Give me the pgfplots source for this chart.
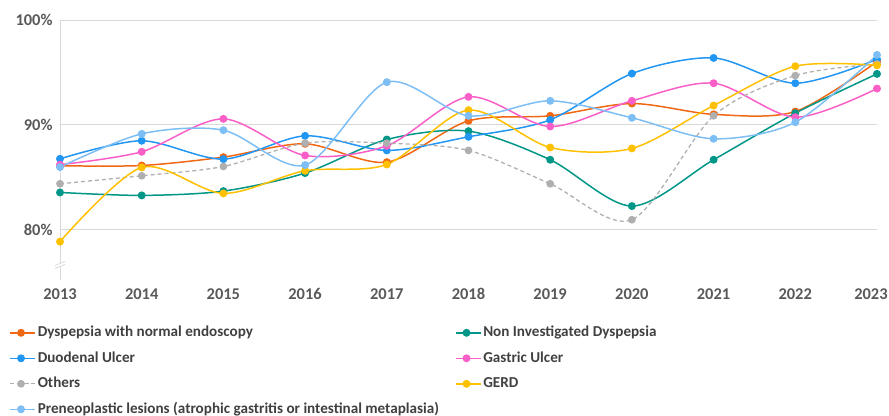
\documentclass[border=0pt]{standalone}
\usepackage{fontspec}
\setmainfont{Carlito}
\usepackage{pgfplots}
\pgfplotsset{compat=1.18}
\definecolor{cDNE}{RGB}{240,103,20}
\definecolor{cNID}{RGB}{0,150,136}
\definecolor{cDU}{RGB}{33,150,243}
\definecolor{cGU}{RGB}{250,95,200}
\definecolor{cOTH}{RGB}{175,175,175}
\definecolor{cGERD}{RGB}{255,192,0}
\definecolor{cPRE}{RGB}{125,190,245}
\definecolor{tickgray}{RGB}{89,89,89}
\definecolor{leggray}{RGB}{64,64,64}
\definecolor{gridgray}{RGB}{217,217,217}
\begin{document}
\begin{tikzpicture}
\useasboundingbox (-60bp,-136bp) rectangle (829bp,280bp);
\begin{axis}[
 at={(0,0)}, anchor=south west, scale only axis, width=817bp, height=260bp,
 xmin=2013, xmax=2023, ymin=75.2, ymax=100,
 xtick={2013,2014,...,2023}, ytick={80,90,100},
 ymajorgrids, grid style={draw=gridgray, line width=0.8pt},
 axis x line*=bottom, axis y line*=left,
 x axis line style={draw=none},
 y axis line style={draw=gridgray, line width=0.8pt, -},
 major tick length=0pt,
 /pgf/number format/assume math mode=true,
 xticklabel style={font=\fontsize{16.5}{19}\selectfont\bfseries, text=tickgray, /pgf/number format/1000 sep={}, yshift=-5bp},
 xticklabel={\ifdim\tick pt>2022.5pt\hspace*{-12bp}\fi\pgfmathprintnumber{\tick}},
 yticklabel={\pgfmathprintnumber{\tick}\%},
 yticklabel style={font=\fontsize{16.5}{19}\selectfont\bfseries, text=tickgray, xshift=-4bp},
 clip=false,
 legend columns=2, legend cell align=left,
 legend style={draw=none, fill=none, at={(-0.066,-0.16)}, anchor=north west,
   font=\fontsize{15.2}{18}\selectfont\bfseries, text=leggray, row sep=7.5bp,
   nodes={inner sep=2bp, text height=11bp, text depth=3bp}},
 legend image code/.code={\path (0bp,0bp) -- (25bp,0bp);\draw[mark repeat=2, mark phase=2] plot coordinates {(0bp,0bp) (11bp,0bp) (22bp,0bp)};},
 every axis plot/.append style={line width=1.5pt, smooth, mark=*, mark size=3.2pt, mark options={solid}},
]
\addplot[color=cDNE] coordinates {(2013,86.10) (2014,86.12) (2015,86.92) (2016,88.19) (2017,86.44) (2018,90.38) (2019,90.86) (2020,92.03) (2021,91.00) (2022,91.27) (2023,96.03)};
\addlegendentry{\makebox[415bp][l]{Dyspepsia with normal endoscopy}}
\addplot[color=cNID] coordinates {(2013,83.55) (2014,83.27) (2015,83.68) (2016,85.40) (2017,88.60) (2018,89.40) (2019,86.67) (2020,82.25) (2021,86.67) (2022,91.11) (2023,94.86)};
\addlegendentry{Non Investigated Dyspepsia}
\addplot[color=cDU] coordinates {(2013,86.76) (2014,88.48) (2015,86.73) (2016,88.95) (2017,87.56) (2018,88.86) (2019,90.48) (2020,94.89) (2021,96.38) (2022,93.97) (2023,96.25)};
\addlegendentry{\makebox[415bp][l]{Duodenal Ulcer}}
\addplot[color=cGU] coordinates {(2013,86.20) (2014,87.43) (2015,90.57) (2016,87.08) (2017,88.00) (2018,92.67) (2019,89.84) (2020,92.29) (2021,93.97) (2022,90.73) (2023,93.46)};
\addlegendentry{Gastric Ulcer}
\addplot[color=cOTH, dash pattern=on 4bp off 3bp, line width=1.3pt] coordinates {(2013,84.38) (2014,85.14) (2015,86.03) (2016,88.25) (2017,88.25) (2018,87.56) (2019,84.38) (2020,80.95) (2021,90.86) (2022,94.70) (2023,95.80)};
\addlegendentry{\makebox[415bp][l]{Others}}
\addplot[color=cGERD] coordinates {(2013,78.86) (2014,85.94) (2015,83.46) (2016,85.62) (2017,86.22) (2018,91.40) (2019,87.84) (2020,87.75) (2021,91.84) (2022,95.59) (2023,95.68)};
\addlegendentry{GERD}
\addplot[color=cPRE] coordinates {(2013,85.97) (2014,89.14) (2015,89.49) (2016,86.16) (2017,94.07) (2018,90.86) (2019,92.29) (2020,90.67) (2021,88.67) (2022,90.25) (2023,96.67)};
\addlegendentry{\makebox[415bp][l]{Preneoplastic lesions (atrophic gastritis or intestinal metaplasia)}}
\fill[white] ([xshift=-5bp,yshift=-3bp]rel axis cs:0,0.056) -- ([xshift=5bp,yshift=1bp]rel axis cs:0,0.056) -- ([xshift=5bp,yshift=4bp]rel axis cs:0,0.056) -- ([xshift=-5bp,yshift=0bp]rel axis cs:0,0.056) -- cycle;
\draw[gridgray, line width=0.8pt] ([xshift=-5bp,yshift=-3bp]rel axis cs:0,0.056) -- ([xshift=5bp,yshift=1bp]rel axis cs:0,0.056);
\draw[gridgray, line width=0.8pt] ([xshift=-5bp,yshift=0bp]rel axis cs:0,0.056) -- ([xshift=5bp,yshift=4bp]rel axis cs:0,0.056);
\end{axis}
\end{tikzpicture}
\end{document}
